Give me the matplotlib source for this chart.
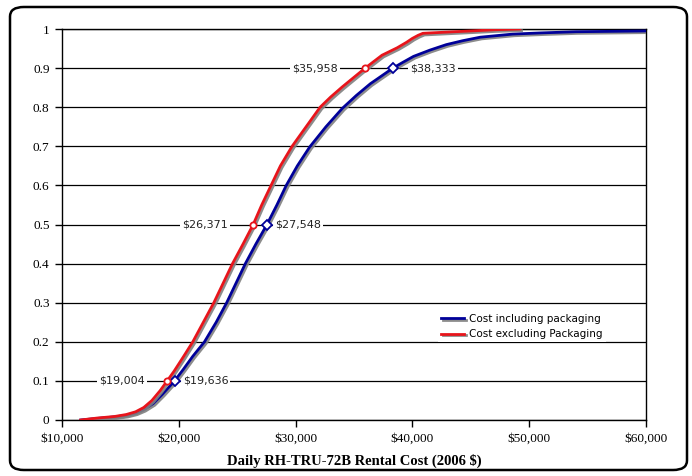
import numpy as np
import matplotlib
matplotlib.use("Agg")
import matplotlib.pyplot as plt
import matplotlib.patheffects as pe
from matplotlib.patches import FancyBboxPatch
from matplotlib.ticker import FuncFormatter

# CDF of daily rental cost
incl_cost = [11600, 13000, 14500, 15500, 16300, 17000, 17800, 18600, 19636, 20400,
             21200, 22200, 23200, 24100, 24900, 25700, 26600, 27548, 28400, 29200,
             30150, 31200, 32600, 34000, 35200, 36400, 38333, 39200, 40100, 41500,
             42900, 44300, 45800, 48600, 51000, 54000, 57000, 60000]
incl_prob = [0.0, 0.004, 0.008, 0.012, 0.018, 0.027, 0.042, 0.066, 0.1, 0.13,
             0.163, 0.2, 0.25, 0.3, 0.35, 0.4, 0.45, 0.5, 0.55, 0.6,
             0.65, 0.698, 0.75, 0.797, 0.83, 0.86, 0.9, 0.915, 0.93, 0.946,
             0.96, 0.97, 0.979, 0.987, 0.99, 0.993, 0.994, 0.995]

excl_cost = [11600, 13000, 14500, 15500, 16300, 17000, 17700, 18400, 19004, 19600,
             20400, 21200, 22100, 23000, 23800, 24600, 25500, 26371, 27100, 27900,
             28700, 29700, 30900, 32100, 33000, 34000, 35958, 36700, 37400, 38700,
             39500, 40000, 40500, 40900, 42900, 45000, 47000, 49200]
excl_prob = [0.0, 0.005, 0.009, 0.014, 0.021, 0.032, 0.05, 0.075, 0.1, 0.125,
             0.162, 0.2, 0.25, 0.3, 0.35, 0.4, 0.45, 0.5, 0.55, 0.6,
             0.65, 0.7, 0.75, 0.8, 0.826, 0.852, 0.9, 0.917, 0.933, 0.952,
             0.966, 0.976, 0.984, 0.989, 0.992, 0.995, 0.998, 1.0]

# marked percentiles
pct = [0.1, 0.5, 0.9]
incl_pts = [19636, 27548, 38333]
excl_pts = [19004, 26371, 35958]
# where the labels sit (data x)
incl_lbl_x = [20334, 28236, 39795]
excl_lbl_x = [17106, 24212, 33630]

blue = "#000099"
red = "#e8141b"

fig = plt.figure(figsize=(6.92, 4.76), dpi=100)
ax = fig.add_axes([62/692, 1 - 420/476, 584/692, 391/476])

shadow = [pe.SimpleLineShadow(offset=(1.2, -1.2), shadow_color="gray", alpha=0.9), pe.Normal()]
ax.plot(incl_cost, incl_prob, color=blue, lw=2.0, label="Cost including packaging",
        path_effects=shadow, zorder=4, solid_joinstyle="round")
ax.plot(excl_cost, excl_prob, color=red, lw=2.0, label="Cost excluding Packaging",
        path_effects=shadow, zorder=4, solid_joinstyle="round")

ax.plot(incl_pts, pct, ls="none", marker="D", ms=5.5, mfc="white", mec=blue, mew=1.3, zorder=6)
ax.plot(excl_pts, pct, ls="none", marker="o", ms=4.5, mfc="white", mec=red, mew=1.3, zorder=6)

for x, p, v in zip(incl_lbl_x, pct, incl_pts):
    ax.text(x, p, "${:,}".format(v), ha="left", va="center", fontsize=8, color="#222222",
            family="DejaVu Sans", zorder=3,
            bbox=dict(facecolor="white", edgecolor="none", pad=1.5))
for x, p, v in zip(excl_lbl_x, pct, excl_pts):
    ax.text(x, p, "${:,}".format(v), ha="right", va="center", fontsize=8, color="#222222",
            family="DejaVu Sans", zorder=3,
            bbox=dict(facecolor="white", edgecolor="none", pad=1.5))

ax.set_xlim(10000, 60000)
ax.set_ylim(0, 1)
ax.set_xticks(np.arange(10000, 60001, 10000))
ax.set_yticks(np.arange(0, 1.01, 0.1))
ax.xaxis.set_major_formatter(FuncFormatter(lambda v, _: "${:,.0f}".format(v)))
ax.yaxis.set_major_formatter(FuncFormatter(lambda v, _: "{:g}".format(round(v, 1))))
ax.grid(axis="y", color="black", lw=0.9)
ax.set_axisbelow(True)
for s in ax.spines.values():
    s.set_linewidth(1.0)
ax.tick_params(direction="out", length=5, width=1, labelsize=9.5, pad=4)
for lab in ax.get_xticklabels() + ax.get_yticklabels():
    lab.set_family("Liberation Serif")
ax.set_xlabel("Daily RH-TRU-72B Rental Cost (2006 $)", family="Liberation Serif",
              fontsize=10.5, fontweight="bold", labelpad=7)

leg = ax.legend(loc="lower left", bbox_to_anchor=(0.635, 0.185), frameon=True,
                fancybox=False, edgecolor="none", facecolor="white", framealpha=1,
                prop={"family": "DejaVu Sans", "size": 7.5}, handlelength=2.2,
                handletextpad=0.5, borderpad=0.3, labelspacing=0.5)
leg.set_zorder(5)

fig.patches.append(FancyBboxPatch((10/692, 6/476), 677/692, 463/476,
                                  boxstyle="round,pad=0,rounding_size=0.02",
                                  transform=fig.transFigure, fill=False,
                                  edgecolor="black", lw=1.8))

fig.savefig("out.png", dpi=100)
